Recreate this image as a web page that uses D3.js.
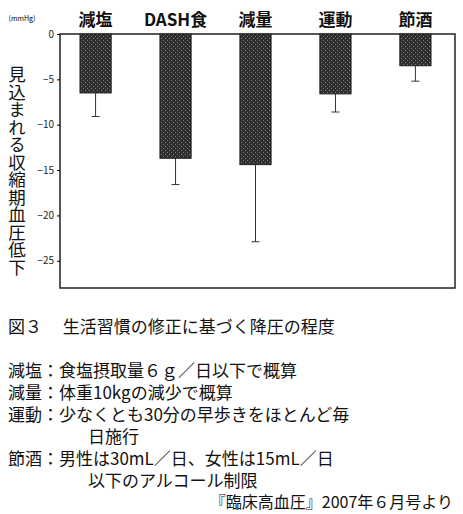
<!DOCTYPE html>
<html><head><meta charset="utf-8">
<script src="https://cdn.jsdelivr.net/npm/d3@7"></script>
<style>body{margin:0;background:#fff}text{font-family:"Noto Sans CJK JP",sans-serif}</style>
</head><body><svg id="c" width="463" height="514"></svg>
<script>
var categories = ["減塩", "DASH食", "減量", "運動", "節酒"];
var values = [-6.5, -13.7, -14.4, -6.6, -3.5];
var errLow = [-9.1, -16.6, -22.9, -8.6, -5.2];
var yTicks = [0, -5, -10, -15, -20, -25];
var notes = [
  {x: 8, y: 333, t: "図３　 生活習慣の修正に基づく降圧の程度"},
  {x: 8, y: 377, t: "減塩：食塩摂取量６ｇ／日以下で概算"},
  {x: 8, y: 399, t: "減量：体重10kgの減少で概算"},
  {x: 8, y: 421, t: "運動：少なくとも30分の早歩きをほとんど毎"},
  {x: 88, y: 443, t: "日施行"},
  {x: 8, y: 465, t: "節酒：男性は30mL／日、女性は15mL／日"},
  {x: 88, y: 487, t: "以下のアルコール制限"}
];

var svg = d3.select("#c");
var mLeft = 60, mRight = 455, mTop = 34, mBottom = 288;

var x = d3.scaleBand().domain(categories).range([56, 455]).paddingInner(0.61).paddingOuter(0.3);
var y = d3.scaleLinear().domain([0, -28]).range([mTop, mBottom]);

// frame
svg.append("rect").attr("x", mLeft).attr("y", mTop).attr("width", mRight - mLeft).attr("height", mBottom - mTop)
  .attr("fill", "none").attr("stroke", "#222").attr("stroke-width", 1.5);

// axis ticks
var ax = svg.append("g").attr("transform", "translate(" + mLeft + ",0)")
  .call(d3.axisLeft(y).tickValues(yTicks).tickSize(3).tickFormat(function (d) { return d === 0 ? "0" : "−" + (-d); }));
ax.select(".domain").remove();
ax.selectAll("text").attr("font-size", 10).attr("fill", "#222");

// stipple pattern
var pat = svg.append("defs").append("pattern").attr("id", "stip").attr("width", 4).attr("height", 4).attr("patternUnits", "userSpaceOnUse");
pat.append("rect").attr("width", 4).attr("height", 4).attr("fill", "#2e2e2e");
pat.append("rect").attr("x", 1).attr("y", 2).attr("width", 1).attr("height", 1).attr("fill", "#888");
pat.append("rect").attr("x", 3).attr("y", 0).attr("width", 1).attr("height", 1).attr("fill", "#777");

// error bars
categories.forEach(function (c, i) {
  var cx = x(c) + x.bandwidth() / 2;
  svg.append("line").attr("x1", cx).attr("x2", cx).attr("y1", y(values[i])).attr("y2", y(errLow[i])).attr("stroke", "#333");
  svg.append("line").attr("x1", cx - 4).attr("x2", cx + 4).attr("y1", y(errLow[i])).attr("y2", y(errLow[i])).attr("stroke", "#333");
});

svg.selectAll("rect.bar").data(values).enter().append("rect").attr("class", "bar")
  .attr("x", function (d, i) { return x(categories[i]); })
  .attr("y", y(0)).attr("width", x.bandwidth())
  .attr("height", function (d) { return y(d) - y(0); })
  .attr("fill", "url(#stip)").attr("stroke", "#222");

// category labels
svg.selectAll("text.cat").data(categories).enter().append("text")
  .attr("x", function (d) { return x(d) + x.bandwidth() / 2; }).attr("y", 26)
  .attr("text-anchor", "middle").attr("font-size", 17).attr("font-weight", "bold").attr("fill", "#111")
  .text(function (d) { return d; });

svg.append("text").attr("x", 22).attr("y", 21).attr("font-size", 7).attr("text-anchor", "middle").text("(mmHg)");

// y title vertical
svg.append("text").attr("x", 17).attr("y", 66).attr("font-size", 17.5)
  .attr("writing-mode", "vertical-rl").attr("fill", "#111").text("見込まれる収縮期血圧低下");

svg.selectAll("text.note").data(notes).enter().append("text")
  .attr("x", function (d) { return d.x; }).attr("y", function (d) { return d.y; })
  .attr("font-size", 17).attr("fill", "#111").text(function (d) { return d.t; });
svg.append("text").attr("x", 453).attr("y", 508).attr("font-size", 16).attr("text-anchor", "end")
  .attr("fill", "#111").text("『臨床高血圧』2007年６月号より");
</script></body></html>
